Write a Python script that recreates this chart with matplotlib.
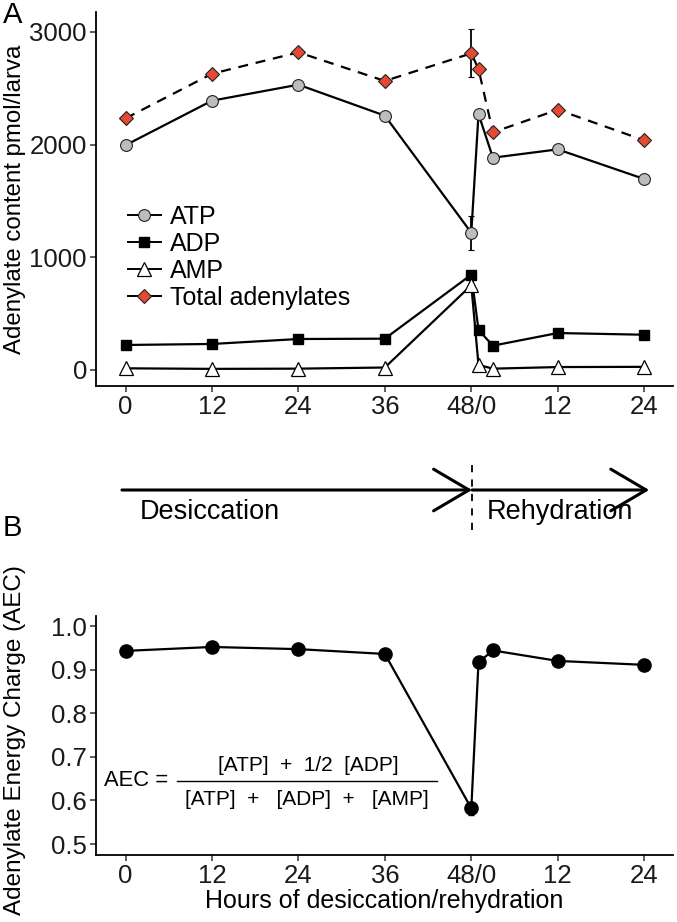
import matplotlib
matplotlib.use("Agg")
import matplotlib.pyplot as plt
import matplotlib.transforms as mtransforms
from matplotlib.lines import Line2D
from matplotlib.patches import FancyArrowPatch

plt.rcParams['font.family'] = ['Liberation Sans', 'DejaVu Sans']

# Hours: desiccation 0-48, rehydration 1,3,12,24 h after 48
hours = [0, 12, 24, 36, 48, 49, 51, 60, 72]
tick_pos = [0, 12, 24, 36, 48, 60, 72]
tick_labels = ["0", "12", "24", "36", "48/0", "12", "24"]

atp = [1995, 2390, 2532, 2257, 1218, 2272, 1884, 1958, 1695]
atp_err = [0, 0, 0, 0, 150, 0, 0, 0, 0]
adp = [222, 231, 275, 278, 846, 355, 216, 328, 313]
amp = [15, 10, 12, 22, 752, 45, 12, 26, 28]
total = [2233, 2629, 2819, 2565, 2810, 2671, 2109, 2310, 2038]
total_err = [0, 0, 0, 0, 213, 0, 0, 0, 0]

aec = [0.943, 0.952, 0.947, 0.936, 0.582, 0.917, 0.944, 0.920, 0.911]
aec_err = [0, 0, 0, 0, 0.015, 0, 0, 0, 0]

W, H = 677, 922
fig = plt.figure(figsize=(W/100, H/100), dpi=100)

def fx(px):
    return px / W

def fy(py):
    return 1 - py / H

def style(ax):
    for s in ['top', 'right']:
        ax.spines[s].set_visible(False)
    for s in ['left', 'bottom']:
        ax.spines[s].set_linewidth(1.3)
    ax.tick_params(axis='both', labelsize=18.5, width=1.1, length=4, pad=2.5,
                   color='#333333', labelcolor='#1a1a1a')
    ax.set_xticks(tick_pos)
    ax.set_xticklabels(tick_labels)
    ax.set_xlim(-4.1, 76)

lw = 1.6
dash = (0, (4.5, 3.5))

axA = fig.add_axes([fx(96), fy(386), (673-96)/W, (386-12)/H])
style(axA)
axA.errorbar(hours, total, yerr=total_err, color='black', lw=lw, ls=dash, marker='D', ms=7,
             mfc='#e34a33', mec='#222222', mew=0.8, capsize=2.5, elinewidth=1.3, zorder=3)
axA.errorbar(hours, atp, yerr=atp_err, color='black', lw=lw, marker='o', ms=8.5,
             mfc='#bdbdbd', mec='#222222', mew=0.8, capsize=2.5, elinewidth=1.3, zorder=3)
axA.plot(hours, adp, color='black', lw=lw, marker='s', ms=7.5, mfc='black', mec='black', zorder=3)
axA.plot(hours, amp, color='black', lw=lw, marker='^', ms=10.5, mfc='white', mec='black', mew=0.9, zorder=3)
axA.set_ylim(-142, 3177)
axA.set_yticks([0, 1000, 2000, 3000])
axA.set_ylabel("Adenylate content pmol/larva", fontsize=17.3)
axA.yaxis.set_label_coords(-(96-26)/(673-96), 0.5)

handles = [
    Line2D([], [], color='black', lw=1.4, marker='o', ms=8.5, mfc='#bdbdbd', mec='#222222', mew=0.8),
    Line2D([], [], color='black', lw=1.4, marker='s', ms=7.5, mfc='black', mec='black'),
    Line2D([], [], color='black', lw=1.4, marker='^', ms=10.5, mfc='white', mec='black', mew=0.9),
    Line2D([], [], color='black', lw=1.4, marker='D', ms=7, mfc='#e34a33', mec='#222222', mew=0.8),
]
axA.legend(handles, ["ATP", "ADP", "AMP", "Total adenylates"], loc='upper left',
           bbox_to_anchor=((128-96)/(673-96), (386-205)/(386-12)), frameon=False, fontsize=18,
           handlelength=1.3, handletextpad=0.36, labelspacing=0.12, borderaxespad=0, borderpad=0)

axB = fig.add_axes([fx(96), fy(855), (673-96)/W, (855-616)/H])
style(axB)
axB.errorbar(hours, aec, yerr=aec_err, color='black', lw=lw, marker='o', ms=9.5,
             mfc='black', mec='black', capsize=2, elinewidth=1.3, zorder=3)
axB.set_ylim(0.475, 1.023)
axB.set_yticks([0.5, 0.6, 0.7, 0.8, 0.9, 1.0])
axB.set_yticklabels(["0.5", "0.6", "0.7", "0.8", "0.9", "1.0"])
axB.set_ylabel("Adenylate Energy Charge (AEC)", fontsize=17.5)
axB.yaxis.set_label_coords(-(96-26)/(673-96), 0.48)
axB.set_xlabel("Hours of desiccation/rehydration", fontsize=18, labelpad=0.5)

# AEC formula
fig.text(fx(104), fy(780), "AEC =", fontsize=15.8, va='center', ha='left')
fig.text(fx(308), fy(765), "[ATP]  +  1/2  [ADP]", fontsize=15, va='center', ha='center')
fig.text(fx(307), fy(799), "[ATP]  +   [ADP]  +   [AMP]", fontsize=15, va='center', ha='center')
fig.add_artist(Line2D([fx(177), fx(437)], [fy(781), fy(781)], transform=fig.transFigure,
                      color='black', lw=1.0))

# Arrow panel (x in data hours, y in figure fraction)
trans = mtransforms.blended_transform_factory(axB.transData, fig.transFigure)
ya = fy(490)
arrow_kw = dict(arrowstyle='->,head_length=0.85,head_width=0.5', lw=2.2, color='black',
                mutation_scale=30, shrinkA=0, shrinkB=0)
fig.add_artist(FancyArrowPatch((-0.5, ya), (48.1, ya), transform=trans, **arrow_kw))
fig.add_artist(FancyArrowPatch((48.1, ya), (72.7, ya), transform=trans, **arrow_kw))
fig.add_artist(Line2D([48.1, 48.1], [fy(465), fy(536)], transform=trans, color='black',
                      lw=1.3, ls=(0, (4, 4))))
fig.text(fx(140), fy(512), "Desiccation", fontsize=19.5, va='center', ha='left')
fig.text(fx(487), fy(512), "Rehydration", fontsize=19.5, va='center', ha='left')

fig.text(fx(3), fy(15), "A", fontsize=21, va='center', ha='left')
fig.text(fx(3), fy(528), "B", fontsize=21, va='center', ha='left')

fig.savefig("out.png", dpi=100)
